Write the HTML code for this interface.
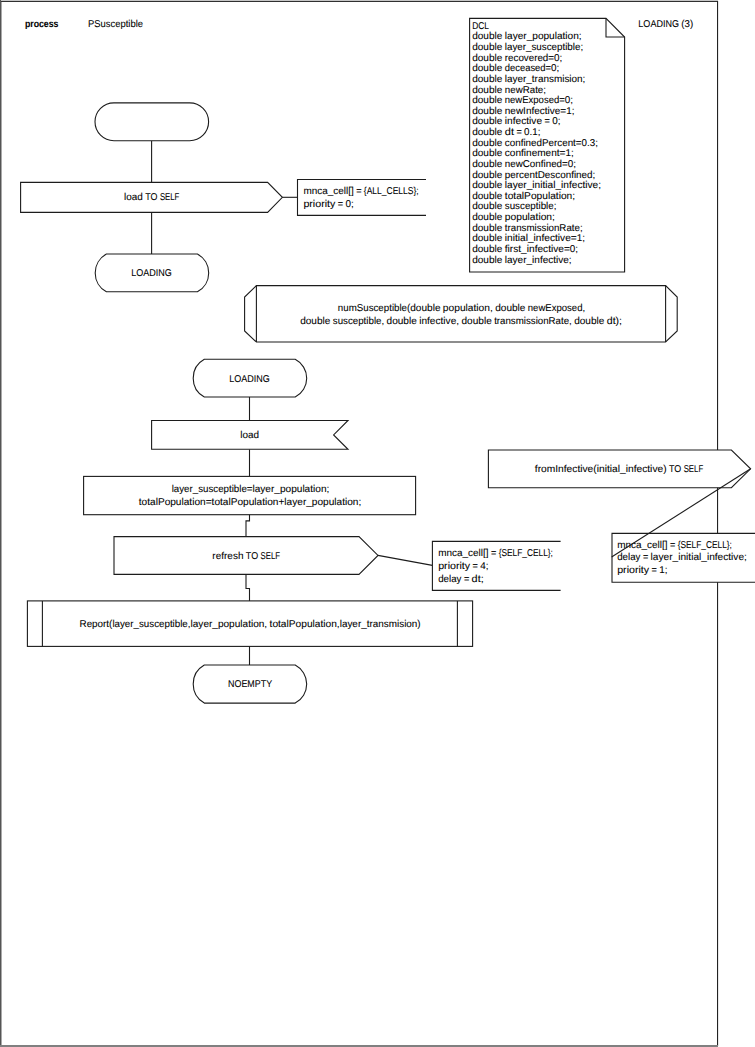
<!DOCTYPE html>
<html lang="en">
<head>
<meta charset="utf-8">
<title>process PSusceptible</title>
<style>
html,body{margin:0;padding:0;background:#fff;}
body{width:755px;height:1047px;overflow:hidden;}
svg{display:block;}
text{font-family:"Liberation Sans",sans-serif;fill:#000;stroke:#000;stroke-width:0.08px;text-rendering:geometricPrecision;}
</style>
</head>
<body>
<svg width="755" height="1047" viewBox="0 0 755 1047">
<rect x="0" y="0" width="755" height="1047" fill="#fff"/>
<rect x="0" y="0" width="1.5" height="1047" fill="#555"/>
<rect x="1" y="0" width="717" height="1" fill="#c6c6c6"/>
<rect x="1" y="1" width="717" height="1" fill="#303030"/>
<rect x="717" y="1" width="1.1" height="1045" fill="#222"/>
<rect x="0" y="1045" width="718" height="2" fill="#808080"/>
<text y="26.6" font-size="9.9" font-weight="bold" stroke="none"><tspan x="24.90" textLength="33.61" lengthAdjust="spacingAndGlyphs">process</tspan></text>
<text y="26.6" font-size="9.9"><tspan x="88.00" textLength="54.99" lengthAdjust="spacingAndGlyphs">PSusceptible</tspan></text>
<text y="26.6" font-size="9.9"><tspan x="638.36" textLength="40.58" lengthAdjust="spacingAndGlyphs">LOADING</tspan> <tspan x="681.36" textLength="3.23" lengthAdjust="spacingAndGlyphs">(</tspan><tspan x="684.59" textLength="8.64" lengthAdjust="spacingAndGlyphs">3)</tspan></text>
<line x1="151.6" y1="140.7" x2="151.6" y2="182.4" stroke="#1c1c1c" stroke-width="1.1"/>
<line x1="151.6" y1="212.4" x2="151.6" y2="254" stroke="#1c1c1c" stroke-width="1.1"/>
<rect x="95" y="102.9" width="113.6" height="37.8" rx="18.9" ry="18.9" fill="#fff" stroke="#1c1c1c" stroke-width="1.1"/>
<path d="M20.6 182.4 H267.6 L282.4 197.3 L267.6 212.4 H20.6 Z" fill="#fff" stroke="#1c1c1c" stroke-width="1.1"/>
<text y="200.0" font-size="9.9"><tspan x="124.02" textLength="18.79" lengthAdjust="spacingAndGlyphs">load</tspan> <tspan x="145.22" textLength="12.26" lengthAdjust="spacingAndGlyphs">TO</tspan> <tspan x="159.89" textLength="19.50" lengthAdjust="spacingAndGlyphs">SELF</tspan></text>
<line x1="282.4" y1="197.3" x2="297.5" y2="197.3" stroke="#1c1c1c" stroke-width="1.1"/>
<path d="M426 179.5 H297.5 V215.4 H426" fill="#fff" stroke="#1c1c1c" stroke-width="1.1"/>
<text y="194.0" font-size="9.9"><tspan x="303.40" textLength="50.31" lengthAdjust="spacingAndGlyphs">mnca_cell[]</tspan> <tspan x="356.13" textLength="5.31" lengthAdjust="spacingAndGlyphs">=</tspan> <tspan x="363.85" textLength="54.78" lengthAdjust="spacingAndGlyphs">{ALL_CELLS};</tspan></text>
<text y="207.0" font-size="9.9"><tspan x="303.40" textLength="31.96" lengthAdjust="spacingAndGlyphs">priority</tspan> <tspan x="337.78" textLength="5.31" lengthAdjust="spacingAndGlyphs">=</tspan> <tspan x="345.50" textLength="8.26" lengthAdjust="spacingAndGlyphs">0;</tspan></text>
<path d="M106.4 254.0 H197.4 A21.46 21.46 0 0 1 197.4 291.8 H106.4 A21.55 21.55 0 0 1 106.4 254.0 Z" fill="#fff" stroke="#1c1c1c" stroke-width="1.1"/>
<text y="276.0" font-size="9.9"><tspan x="131.31" textLength="40.58" lengthAdjust="spacingAndGlyphs">LOADING</tspan></text>
<path d="M469.6 18.4 H606 L624.6 37 V272 H469.6 Z" fill="#fff" stroke="#1c1c1c" stroke-width="1.1"/>
<path d="M606 18.4 V37 H624.6" fill="none" stroke="#1c1c1c" stroke-width="1.1"/>
<text y="28.8" font-size="9.9"><tspan x="472.20" textLength="16.73" lengthAdjust="spacingAndGlyphs">DCL</tspan></text>
<text y="39.4" font-size="9.9"><tspan x="472.20" textLength="30.19" lengthAdjust="spacingAndGlyphs">double</tspan> <tspan x="504.81" textLength="76.83" lengthAdjust="spacingAndGlyphs">layer_population;</tspan></text>
<text y="50.0" font-size="9.9"><tspan x="472.20" textLength="30.19" lengthAdjust="spacingAndGlyphs">double</tspan> <tspan x="504.81" textLength="78.33" lengthAdjust="spacingAndGlyphs">layer_susceptible;</tspan></text>
<text y="60.7" font-size="9.9"><tspan x="472.20" textLength="30.19" lengthAdjust="spacingAndGlyphs">double</tspan> <tspan x="504.81" textLength="49.23" lengthAdjust="spacingAndGlyphs">recovered=</tspan><tspan x="554.04" textLength="8.26" lengthAdjust="spacingAndGlyphs">0;</tspan></text>
<text y="71.3" font-size="9.9"><tspan x="472.20" textLength="30.19" lengthAdjust="spacingAndGlyphs">double</tspan> <tspan x="504.81" textLength="46.24" lengthAdjust="spacingAndGlyphs">deceased=</tspan><tspan x="551.04" textLength="8.26" lengthAdjust="spacingAndGlyphs">0;</tspan></text>
<text y="81.9" font-size="9.9"><tspan x="472.20" textLength="30.19" lengthAdjust="spacingAndGlyphs">double</tspan> <tspan x="504.81" textLength="80.58" lengthAdjust="spacingAndGlyphs">layer_transmision;</tspan></text>
<text y="92.5" font-size="9.9"><tspan x="472.20" textLength="30.19" lengthAdjust="spacingAndGlyphs">double</tspan> <tspan x="504.81" textLength="41.17" lengthAdjust="spacingAndGlyphs">newRate;</tspan></text>
<text y="103.2" font-size="9.9"><tspan x="472.20" textLength="30.19" lengthAdjust="spacingAndGlyphs">double</tspan> <tspan x="504.81" textLength="59.99" lengthAdjust="spacingAndGlyphs">newExposed=</tspan><tspan x="564.80" textLength="8.26" lengthAdjust="spacingAndGlyphs">0;</tspan></text>
<text y="113.8" font-size="9.9"><tspan x="472.20" textLength="30.19" lengthAdjust="spacingAndGlyphs">double</tspan> <tspan x="504.81" textLength="61.36" lengthAdjust="spacingAndGlyphs">newInfective=</tspan><tspan x="566.17" textLength="8.26" lengthAdjust="spacingAndGlyphs">1;</tspan></text>
<text y="124.4" font-size="9.9"><tspan x="472.20" textLength="30.19" lengthAdjust="spacingAndGlyphs">double</tspan> <tspan x="504.81" textLength="37.27" lengthAdjust="spacingAndGlyphs">infective</tspan> <tspan x="544.49" textLength="5.31" lengthAdjust="spacingAndGlyphs">=</tspan> <tspan x="552.21" textLength="8.26" lengthAdjust="spacingAndGlyphs">0;</tspan></text>
<text y="135.1" font-size="9.9"><tspan x="472.20" textLength="30.19" lengthAdjust="spacingAndGlyphs">double</tspan> <tspan x="504.81" textLength="9.18" lengthAdjust="spacingAndGlyphs">dt</tspan> <tspan x="516.39" textLength="5.31" lengthAdjust="spacingAndGlyphs">=</tspan> <tspan x="524.12" textLength="16.36" lengthAdjust="spacingAndGlyphs">0.1;</tspan></text>
<text y="145.7" font-size="9.9"><tspan x="472.20" textLength="30.19" lengthAdjust="spacingAndGlyphs">double</tspan> <tspan x="504.81" textLength="76.80" lengthAdjust="spacingAndGlyphs">confinedPercent=</tspan><tspan x="581.61" textLength="16.36" lengthAdjust="spacingAndGlyphs">0.3;</tspan></text>
<text y="156.3" font-size="9.9"><tspan x="472.20" textLength="30.19" lengthAdjust="spacingAndGlyphs">double</tspan> <tspan x="504.81" textLength="60.67" lengthAdjust="spacingAndGlyphs">confinement=</tspan><tspan x="565.48" textLength="8.26" lengthAdjust="spacingAndGlyphs">1;</tspan></text>
<text y="166.9" font-size="9.9"><tspan x="472.20" textLength="30.19" lengthAdjust="spacingAndGlyphs">double</tspan> <tspan x="504.81" textLength="62.99" lengthAdjust="spacingAndGlyphs">newConfined=</tspan><tspan x="567.79" textLength="8.26" lengthAdjust="spacingAndGlyphs">0;</tspan></text>
<text y="177.6" font-size="9.9"><tspan x="472.20" textLength="30.19" lengthAdjust="spacingAndGlyphs">double</tspan> <tspan x="504.81" textLength="90.48" lengthAdjust="spacingAndGlyphs">percentDesconfined;</tspan></text>
<text y="188.2" font-size="9.9"><tspan x="472.20" textLength="30.19" lengthAdjust="spacingAndGlyphs">double</tspan> <tspan x="504.81" textLength="96.24" lengthAdjust="spacingAndGlyphs">layer_initial_infective;</tspan></text>
<text y="198.8" font-size="9.9"><tspan x="472.20" textLength="30.19" lengthAdjust="spacingAndGlyphs">double</tspan> <tspan x="504.81" textLength="70.34" lengthAdjust="spacingAndGlyphs">totalPopulation;</tspan></text>
<text y="209.4" font-size="9.9"><tspan x="472.20" textLength="30.19" lengthAdjust="spacingAndGlyphs">double</tspan> <tspan x="504.81" textLength="51.61" lengthAdjust="spacingAndGlyphs">susceptible;</tspan></text>
<text y="220.1" font-size="9.9"><tspan x="472.20" textLength="30.19" lengthAdjust="spacingAndGlyphs">double</tspan> <tspan x="504.81" textLength="50.10" lengthAdjust="spacingAndGlyphs">population;</tspan></text>
<text y="230.7" font-size="9.9"><tspan x="472.20" textLength="30.19" lengthAdjust="spacingAndGlyphs">double</tspan> <tspan x="504.81" textLength="77.80" lengthAdjust="spacingAndGlyphs">transmissionRate;</tspan></text>
<text y="241.3" font-size="9.9"><tspan x="472.20" textLength="30.19" lengthAdjust="spacingAndGlyphs">double</tspan> <tspan x="504.81" textLength="71.98" lengthAdjust="spacingAndGlyphs">initial_infective=</tspan><tspan x="576.78" textLength="8.26" lengthAdjust="spacingAndGlyphs">1;</tspan></text>
<text y="251.9" font-size="9.9"><tspan x="472.20" textLength="30.19" lengthAdjust="spacingAndGlyphs">double</tspan> <tspan x="504.81" textLength="65.06" lengthAdjust="spacingAndGlyphs">first_infective=</tspan><tspan x="569.87" textLength="8.26" lengthAdjust="spacingAndGlyphs">0;</tspan></text>
<text y="262.6" font-size="9.9"><tspan x="472.20" textLength="30.19" lengthAdjust="spacingAndGlyphs">double</tspan> <tspan x="504.81" textLength="66.85" lengthAdjust="spacingAndGlyphs">layer_infective;</tspan></text>
<path d="M256.4 285.6 H665.6 L677.2 297 V331 L665.6 342 H256.4 L244.6 331 V297 Z" fill="#fff" stroke="#1c1c1c" stroke-width="1.1"/>
<line x1="256.4" y1="285.6" x2="256.4" y2="342" stroke="#1c1c1c" stroke-width="1.1"/>
<line x1="665.6" y1="285.6" x2="665.6" y2="342" stroke="#1c1c1c" stroke-width="1.1"/>
<text y="311.0" font-size="9.9"><tspan x="337.84" textLength="72.44" lengthAdjust="spacingAndGlyphs">numSusceptible(</tspan><tspan x="410.29" textLength="30.19" lengthAdjust="spacingAndGlyphs">double</tspan> <tspan x="442.89" textLength="49.91" lengthAdjust="spacingAndGlyphs">population,</tspan> <tspan x="495.21" textLength="30.19" lengthAdjust="spacingAndGlyphs">double</tspan> <tspan x="527.82" textLength="57.34" lengthAdjust="spacingAndGlyphs">newExposed,</tspan></text>
<text y="324.0" font-size="9.9"><tspan x="300.16" textLength="30.19" lengthAdjust="spacingAndGlyphs">double</tspan> <tspan x="332.77" textLength="51.41" lengthAdjust="spacingAndGlyphs">susceptible,</tspan> <tspan x="386.59" textLength="30.19" lengthAdjust="spacingAndGlyphs">double</tspan> <tspan x="419.20" textLength="39.93" lengthAdjust="spacingAndGlyphs">infective,</tspan> <tspan x="461.54" textLength="30.19" lengthAdjust="spacingAndGlyphs">double</tspan> <tspan x="494.15" textLength="77.61" lengthAdjust="spacingAndGlyphs">transmissionRate,</tspan> <tspan x="574.17" textLength="30.19" lengthAdjust="spacingAndGlyphs">double</tspan> <tspan x="606.77" textLength="15.27" lengthAdjust="spacingAndGlyphs">dt);</tspan></text>
<line x1="249.5" y1="397.0" x2="249.5" y2="420.5" stroke="#1c1c1c" stroke-width="1.1"/>
<line x1="249.5" y1="449.3" x2="249.5" y2="476.4" stroke="#1c1c1c" stroke-width="1.1"/>
<path d="M204.3 359.3 H295.2 A21.20 21.20 0 0 1 295.2 397.0 H204.3 A21.56 21.56 0 0 1 204.3 359.3 Z" fill="#fff" stroke="#1c1c1c" stroke-width="1.1"/>
<text y="382.0" font-size="9.9"><tspan x="229.31" textLength="40.58" lengthAdjust="spacingAndGlyphs">LOADING</tspan></text>
<path d="M151.6 420.5 H348 L333.6 434.9 L348 449.3 H151.6 Z" fill="#fff" stroke="#1c1c1c" stroke-width="1.1"/>
<text y="438.0" font-size="9.9"><tspan x="240.21" textLength="18.79" lengthAdjust="spacingAndGlyphs">load</tspan></text>
<rect x="83.6" y="476.4" width="332" height="38.3" fill="#fff" stroke="#1c1c1c" stroke-width="1.1"/>
<text y="492.0" font-size="9.9"><tspan x="171.69" textLength="80.79" lengthAdjust="spacingAndGlyphs">layer_susceptible=</tspan><tspan x="252.48" textLength="76.83" lengthAdjust="spacingAndGlyphs">layer_population;</tspan></text>
<text y="505.0" font-size="9.9"><tspan x="138.79" textLength="72.79" lengthAdjust="spacingAndGlyphs">totalPopulation=</tspan><tspan x="211.59" textLength="72.79" lengthAdjust="spacingAndGlyphs">totalPopulation+</tspan><tspan x="284.38" textLength="76.83" lengthAdjust="spacingAndGlyphs">layer_population;</tspan></text>
<path d="M249.5 514.7 V520.9 H246 V536.6" fill="none" stroke="#1c1c1c" stroke-width="1.1"/>
<path d="M114 536.6 H359 L378 555.4 L359 574.4 H114 Z" fill="#fff" stroke="#1c1c1c" stroke-width="1.1"/>
<text y="559.0" font-size="9.9"><tspan x="212.37" textLength="31.08" lengthAdjust="spacingAndGlyphs">refresh</tspan> <tspan x="245.86" textLength="12.26" lengthAdjust="spacingAndGlyphs">TO</tspan> <tspan x="260.54" textLength="19.50" lengthAdjust="spacingAndGlyphs">SELF</tspan></text>
<line x1="378" y1="555.4" x2="432.4" y2="565.4" stroke="#1c1c1c" stroke-width="1.1"/>
<path d="M560.6 541.4 H432.4 V590.4 H560.6" fill="#fff" stroke="#1c1c1c" stroke-width="1.1"/>
<text y="556.0" font-size="9.9"><tspan x="438.20" textLength="50.31" lengthAdjust="spacingAndGlyphs">mnca_cell[]</tspan> <tspan x="490.93" textLength="5.31" lengthAdjust="spacingAndGlyphs">=</tspan> <tspan x="498.65" textLength="54.24" lengthAdjust="spacingAndGlyphs">{SELF_CELL};</tspan></text>
<text y="569.0" font-size="9.9"><tspan x="438.20" textLength="31.96" lengthAdjust="spacingAndGlyphs">priority</tspan> <tspan x="472.58" textLength="5.31" lengthAdjust="spacingAndGlyphs">=</tspan> <tspan x="480.30" textLength="8.26" lengthAdjust="spacingAndGlyphs">4;</tspan></text>
<text y="582.0" font-size="9.9"><tspan x="438.20" textLength="23.30" lengthAdjust="spacingAndGlyphs">delay</tspan> <tspan x="463.91" textLength="5.31" lengthAdjust="spacingAndGlyphs">=</tspan> <tspan x="471.63" textLength="12.03" lengthAdjust="spacingAndGlyphs">dt;</tspan></text>
<path d="M246 574.4 V588.5 H249.5 V601" fill="none" stroke="#1c1c1c" stroke-width="1.1"/>
<rect x="27.4" y="600.9" width="445.2" height="45.5" fill="#fff" stroke="#1c1c1c" stroke-width="1.1"/>
<line x1="42.4" y1="600.9" x2="42.4" y2="646.4" stroke="#1c1c1c" stroke-width="1.1"/>
<line x1="457.4" y1="600.9" x2="457.4" y2="646.4" stroke="#1c1c1c" stroke-width="1.1"/>
<text y="627.0" font-size="9.9"><tspan x="79.53" textLength="32.86" lengthAdjust="spacingAndGlyphs">Report(</tspan><tspan x="112.39" textLength="78.14" lengthAdjust="spacingAndGlyphs">layer_susceptible,</tspan><tspan x="190.53" textLength="76.63" lengthAdjust="spacingAndGlyphs">layer_population,</tspan> <tspan x="269.57" textLength="70.14" lengthAdjust="spacingAndGlyphs">totalPopulation,</tspan><tspan x="339.71" textLength="80.96" lengthAdjust="spacingAndGlyphs">layer_transmision)</tspan></text>
<line x1="249.5" y1="646.4" x2="249.5" y2="665.0" stroke="#1c1c1c" stroke-width="1.1"/>
<path d="M204.3 665.0 H295.2 A21.53 21.53 0 0 1 295.2 703.1 H204.3 A21.90 21.90 0 0 1 204.3 665.0 Z" fill="#fff" stroke="#1c1c1c" stroke-width="1.1"/>
<text y="686.9" font-size="9.9"><tspan x="228.01" textLength="44.18" lengthAdjust="spacingAndGlyphs">NOEMPTY</tspan></text>
<path d="M488.4 450 H731.4 L750.6 468.8 L731.4 487.7 H488.4 Z" fill="#fff" stroke="#1c1c1c" stroke-width="1.1"/>
<text y="472.0" font-size="9.9"><tspan x="534.83" textLength="61.87" lengthAdjust="spacingAndGlyphs">fromInfective(</tspan><tspan x="596.69" textLength="69.90" lengthAdjust="spacingAndGlyphs">initial_infective)</tspan> <tspan x="669.00" textLength="12.26" lengthAdjust="spacingAndGlyphs">TO</tspan> <tspan x="683.68" textLength="19.50" lengthAdjust="spacingAndGlyphs">SELF</tspan></text>
<path d="M760 533.4 H612 V582.2 H760" fill="#fff" stroke="#1c1c1c" stroke-width="1.1"/>
<text y="547.6" font-size="9.9"><tspan x="617.20" textLength="50.31" lengthAdjust="spacingAndGlyphs">mnca_cell[]</tspan> <tspan x="669.93" textLength="5.31" lengthAdjust="spacingAndGlyphs">=</tspan> <tspan x="677.65" textLength="54.24" lengthAdjust="spacingAndGlyphs">{SELF_CELL};</tspan></text>
<text y="560.4" font-size="9.9"><tspan x="617.20" textLength="23.30" lengthAdjust="spacingAndGlyphs">delay</tspan> <tspan x="642.91" textLength="5.31" lengthAdjust="spacingAndGlyphs">=</tspan> <tspan x="650.63" textLength="96.24" lengthAdjust="spacingAndGlyphs">layer_initial_infective;</tspan></text>
<text y="573.0" font-size="9.9"><tspan x="617.20" textLength="31.96" lengthAdjust="spacingAndGlyphs">priority</tspan> <tspan x="651.58" textLength="5.31" lengthAdjust="spacingAndGlyphs">=</tspan> <tspan x="659.30" textLength="8.26" lengthAdjust="spacingAndGlyphs">1;</tspan></text>
<line x1="750.6" y1="468.8" x2="611.6" y2="557" stroke="#1c1c1c" stroke-width="1.1"/>
</svg>
</body>
</html>
